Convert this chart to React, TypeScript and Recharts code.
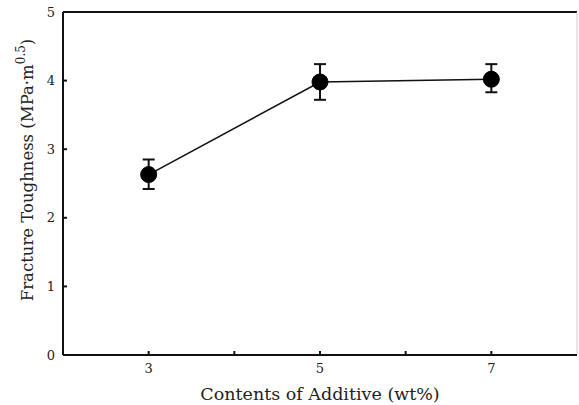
import React from 'react';
import { LineChart, Line, XAxis, YAxis, ErrorBar, ReferenceLine } from 'recharts';

// additive content (wt%) and measured fracture toughness
const contents = [3, 5, 7];
const toughness = [2.63, 3.98, 4.02];
const upper = [2.85, 4.24, 4.24];
const lower = [2.42, 3.72, 3.83];

const xTicks = [3, 4, 5, 6, 7];
const yTicks = [0, 1, 2, 3, 4, 5];

const FONT = '"DejaVu Serif", "Liberation Serif", serif';
const INK = '#111';

const data = contents.map((c, i) => ({
  c,
  k: toughness[i],
  err: [+(toughness[i] - lower[i]).toFixed(2), +(upper[i] - toughness[i]).toFixed(2)],
}));

const YTitle = () => (
  <text
    x={33}
    y={170}
    transform="rotate(-90, 33, 170)"
    textAnchor="middle"
    fontFamily={FONT}
    fontSize={16.5}
    fill="#222"
  >
    Fracture Toughness (MPa·m
    <tspan dy={-8} fontSize={12}>0.5</tspan>
    <tspan dy={8}>)</tspan>
  </text>
);

const App = () => {
  return (
    <div style={{ position: 'absolute', left: 0, top: 0, background: '#fff' }}>
      <LineChart width={579} height={405} data={data} margin={{ top: 12, right: 2, left: 0, bottom: 0 }}>
        <XAxis
          dataKey="c"
          type="number"
          domain={[2, 8]}
          ticks={xTicks}
          tickFormatter={(v: number) => (v % 2 === 1 ? String(v) : '')}
          height={50}
          stroke={INK}
          strokeWidth={2}
          tickSize={-4}
          tickMargin={13}
          tick={{ fill: '#222', fontSize: 13, fontFamily: FONT }}
          label={{ value: 'Contents of Additive (wt%)', position: 'insideBottom', offset: 5, fill: '#222', fontSize: 17.5, fontFamily: FONT }}
        />
        <YAxis
          type="number"
          domain={[0, 5]}
          ticks={yTicks}
          width={63}
          stroke={INK}
          strokeWidth={2}
          tickSize={-4}
          tickMargin={12}
          tick={{ fill: '#222', fontSize: 13, fontFamily: FONT }}
          label={{ content: () => <YTitle /> }}
        />
        <ReferenceLine y={5} stroke={INK} strokeWidth={2} />
        <ReferenceLine x={8} stroke="#ccc" strokeWidth={1} />
        <Line
          dataKey="k"
          stroke={INK}
          strokeWidth={1.6}
          dot={{ r: 8, fill: '#000', stroke: '#000', strokeWidth: 1 }}
          isAnimationActive={false}
        >
          <ErrorBar dataKey="err" width={6} stroke={INK} strokeWidth={2} direction="y" />
        </Line>
      </LineChart>
    </div>
  );
};

export default App;
